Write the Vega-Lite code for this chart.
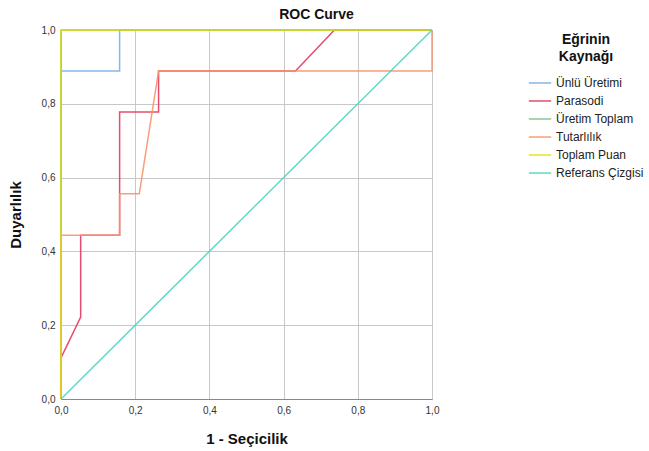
{
  "$schema": "https://vega.github.io/schema/vega-lite/v6.json",
  "autosize": "none",
  "width": 371,
  "height": 369,
  "padding": {"left": 61, "top": 30, "right": 217, "bottom": 52},
  "background": "white",
  "title": {"text": "ROC Curve", "font": "Liberation Sans", "fontSize": 14, "fontWeight": "bold", "color": "#111", "anchor": "middle", "dx": 70, "offset": 3},
  "config": {
    "view": {"stroke": "#b0b0b0", "strokeWidth": 1},
    "font": "Liberation Sans"
  },
  "data": {"values": [
    {"s": "Ünlü Üretimi", "i": 0, "x": 0, "y": 0},
    {"s": "Ünlü Üretimi", "i": 1, "x": 0, "y": 0.889},
    {"s": "Ünlü Üretimi", "i": 2, "x": 0.158, "y": 0.889},
    {"s": "Ünlü Üretimi", "i": 3, "x": 0.158, "y": 1},
    {"s": "Ünlü Üretimi", "i": 4, "x": 1, "y": 1},
    {"s": "Parasodi", "i": 0, "x": 0, "y": 0},
    {"s": "Parasodi", "i": 1, "x": 0, "y": 0.111},
    {"s": "Parasodi", "i": 2, "x": 0.053, "y": 0.222},
    {"s": "Parasodi", "i": 3, "x": 0.053, "y": 0.444},
    {"s": "Parasodi", "i": 4, "x": 0.158, "y": 0.444},
    {"s": "Parasodi", "i": 5, "x": 0.158, "y": 0.778},
    {"s": "Parasodi", "i": 6, "x": 0.263, "y": 0.778},
    {"s": "Parasodi", "i": 7, "x": 0.263, "y": 0.889},
    {"s": "Parasodi", "i": 8, "x": 0.632, "y": 0.889},
    {"s": "Parasodi", "i": 9, "x": 0.737, "y": 1},
    {"s": "Parasodi", "i": 10, "x": 1, "y": 1},
    {"s": "Üretim Toplam", "i": 0, "x": 0, "y": 0},
    {"s": "Üretim Toplam", "i": 1, "x": 0, "y": 1},
    {"s": "Üretim Toplam", "i": 2, "x": 1, "y": 1},
    {"s": "Tutarlılık", "i": 0, "x": 0, "y": 0},
    {"s": "Tutarlılık", "i": 1, "x": 0, "y": 0.444},
    {"s": "Tutarlılık", "i": 2, "x": 0.158, "y": 0.444},
    {"s": "Tutarlılık", "i": 3, "x": 0.158, "y": 0.556},
    {"s": "Tutarlılık", "i": 4, "x": 0.211, "y": 0.556},
    {"s": "Tutarlılık", "i": 5, "x": 0.263, "y": 0.889},
    {"s": "Tutarlılık", "i": 6, "x": 1, "y": 0.889},
    {"s": "Tutarlılık", "i": 7, "x": 1, "y": 1},
    {"s": "Toplam Puan", "i": 0, "x": 0, "y": 0},
    {"s": "Toplam Puan", "i": 1, "x": 0, "y": 1},
    {"s": "Toplam Puan", "i": 2, "x": 1, "y": 1},
    {"s": "Referans Çizgisi", "i": 0, "x": 0, "y": 0},
    {"s": "Referans Çizgisi", "i": 1, "x": 1, "y": 1}
  ]},
  "mark": {"type": "line", "strokeWidth": 1.5, "opacity": 0.9, "clip": false},
  "encoding": {
    "x": {"field": "x", "type": "quantitative", "scale": {"domain": [0, 1], "nice": false},
      "axis": {"title": "1 - Seçicilik", "titleFont": "Liberation Sans", "titleFontSize": 15, "titleFontWeight": "bold", "titleColor": "#111", "titlePadding": 16,
        "values": [0, 0.2, 0.4, 0.6, 0.8, 1], "labelExpr": "replace(format(datum.value,'.1f'),'.',',')", "labelFontSize": 10, "labelColor": "#333", "labelFont": "Liberation Sans", "labelFlush": false,
        "grid": true, "gridColor": "#c8c8c8", "gridWidth": 1, "domainColor": "#888", "ticks": false, "labelPadding": 6}},
    "y": {"field": "y", "type": "quantitative", "scale": {"domain": [0, 1], "nice": false},
      "axis": {"title": "Duyarlılık", "titleFont": "Liberation Sans", "titleFontSize": 15, "titleFontWeight": "bold", "titleColor": "#111", "titlePadding": 18,
        "values": [0, 0.2, 0.4, 0.6, 0.8, 1], "labelExpr": "replace(format(datum.value,'.1f'),'.',',')", "labelFontSize": 10, "labelColor": "#333", "labelFont": "Liberation Sans", "labelFlush": false,
        "grid": true, "gridColor": "#c8c8c8", "gridWidth": 1, "domainColor": "#888", "ticks": false, "labelPadding": 6}},
    "color": {"field": "s", "type": "nominal",
      "scale": {"domain": ["Ünlü Üretimi", "Parasodi", "Üretim Toplam", "Tutarlılık", "Toplam Puan", "Referans Çizgisi"],
                "range": ["#7aaee6", "#e23a5e", "#80c080", "#f7946a", "#e2e200", "#4dd4c4"]},
      "legend": {"title": ["Eğrinin", "Kaynağı"], "titleFont": "Liberation Sans", "titleFontSize": 14, "titleFontWeight": "bold", "titleColor": "#111", "titleAnchor": "middle", "titleAlign": "center", "titleLineHeight": 17, "titlePadding": 7,
        "orient": "none", "legendX": 467, "legendY": 3, "symbolType": "stroke", "symbolSize": 500, "symbolStrokeWidth": 1.5,
        "labelFont": "Liberation Sans", "labelFontSize": 12, "labelColor": "#222", "rowPadding": 0, "labelOffset": 4}},
    "order": {"field": "i", "type": "quantitative"}
  }
}
